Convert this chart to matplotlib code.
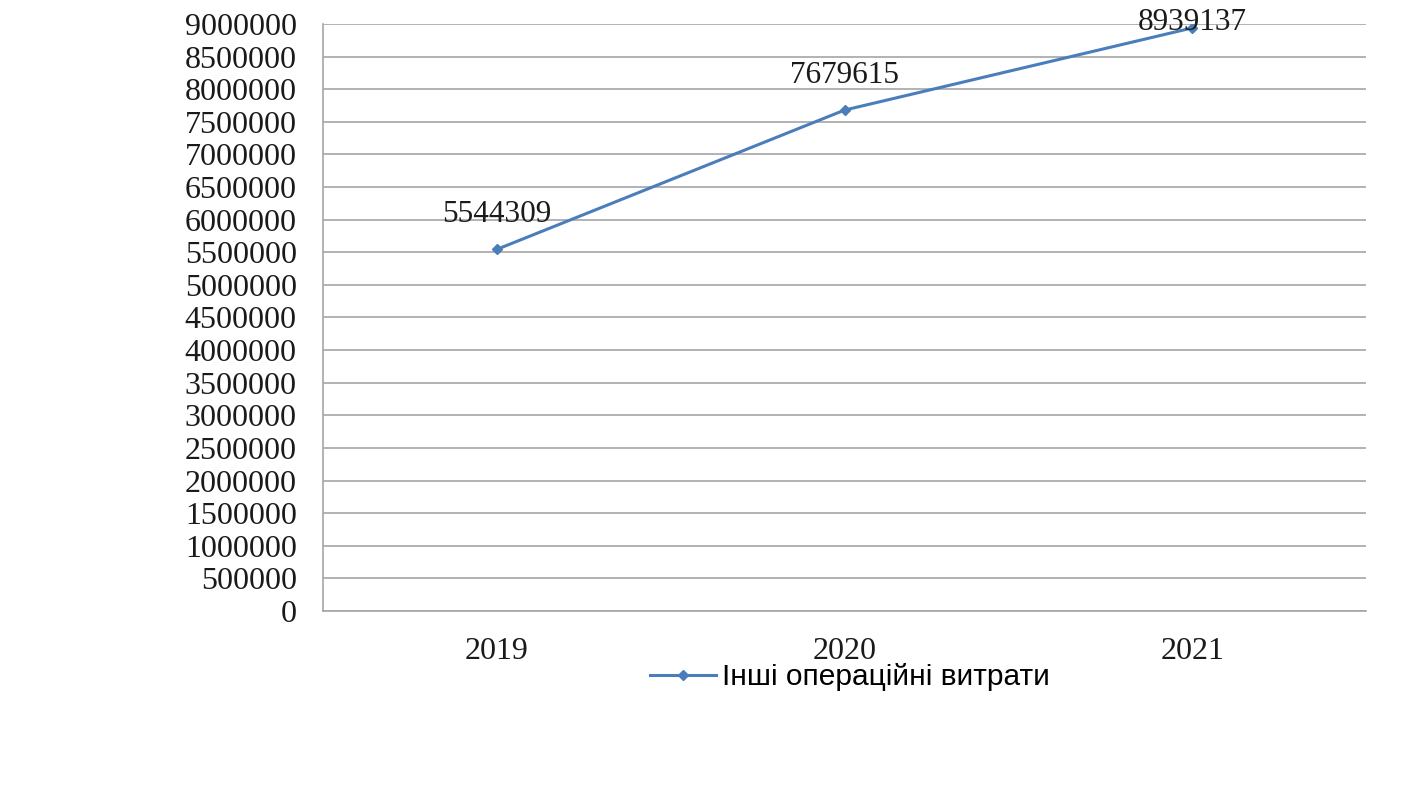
import matplotlib.pyplot as plt
import numpy as np

# дані
years = ['2019', '2020', '2021']
vytraty = [5544309, 7679615, 8939137]
series_name = 'Інші операційні витрати'
y_ticks = list(range(0, 9000001, 500000))

# зсув підписів (у пікселях), верхній притиснутий до краю
label_dy = [25, 25, 4]

fig = plt.figure(figsize=(14.07, 7.91), dpi=100)
ax = fig.add_axes([0.2296, 0.2276, 0.7413, 0.7421])

x = np.arange(len(years))
ax.plot(x, vytraty, color='#4a7ebb', lw=2.2, marker='D', ms=5,
        label=series_name, zorder=3)

for xi, v, dy in zip(x, vytraty, label_dy):
    ax.annotate(str(v), (xi, v), xytext=(0, dy), textcoords='offset points',
                ha='center', va='center', fontsize=22.5,
                family='Liberation Serif', color='#1a1a1a',
                annotation_clip=False)

ax.set_xlim(-0.5, 2.5)
ax.set_ylim(0, 9000000)
ax.set_xticks(x)
ax.set_xticklabels(years)
ax.set_yticks(y_ticks)
ax.set_yticklabels([str(t) for t in y_ticks])
for lab in ax.get_xticklabels() + ax.get_yticklabels():
    lab.set_family('Liberation Serif')
    lab.set_fontsize(23)
    lab.set_color('#1a1a1a')
ax.tick_params(axis='both', length=0)
ax.tick_params(axis='x', pad=19)
ax.tick_params(axis='y', pad=19)

ax.grid(axis='y', color='#a6a6a6', lw=1.2)
ax.set_axisbelow(True)
for s in ['top', 'right']:
    ax.spines[s].set_visible(False)
for s in ['left', 'bottom']:
    ax.spines[s].set_color('#a6a6a6')
    ax.spines[s].set_linewidth(1.2)

leg = fig.legend(loc='center', bbox_to_anchor=(850 / 1407, 1 - 677 / 791),
                 frameon=False, prop={'family': 'Liberation Sans', 'size': 21.5},
                 handlelength=2.2, handletextpad=0.2)

fig.savefig('out.png', dpi=100)
